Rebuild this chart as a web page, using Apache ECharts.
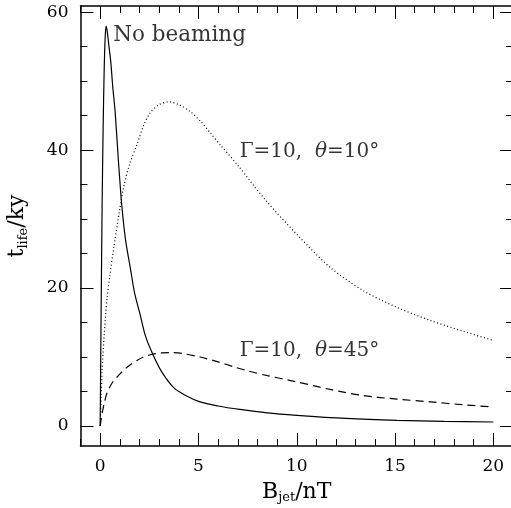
<!DOCTYPE html>
<html>
<head>
<meta charset="utf-8">
<script src="https://cdn.jsdelivr.net/npm/echarts@6/dist/echarts.min.js"></script>
<style>
  html, body { margin: 0; padding: 0; background: #fff; }
  #chart { width: 511px; height: 508px; }
</style>
</head>
<body>
<div id="chart"></div>
<script>
// B_jet (nT) vs t_life (ky)
const noBeamX = [0, 0.05, 0.1, 0.15, 0.2, 0.25, 0.3, 0.35, 0.45, 0.54, 0.64, 0.76, 0.93, 1.1, 1.3, 1.53, 1.75, 2.03, 2.3, 2.66, 3.1, 3.73, 4.3, 5.08, 6, 7.1, 8.5, 10, 12.5, 15.1, 17.5, 20];
const noBeamY = [0, 17, 32, 43, 51, 56, 58, 57.4, 55, 52.8, 49.2, 45.6, 38.4, 32, 26.8, 23, 19.3, 16.2, 13.1, 10.5, 8, 5.6, 4.5, 3.5, 2.9, 2.4, 1.9, 1.55, 1.1, 0.82, 0.68, 0.58];

const theta10X = [0, 0.05, 0.1, 0.2, 0.35, 0.5, 0.7, 1.0, 1.19, 1.5, 1.87, 2.2, 2.54, 3, 3.47, 4, 4.58, 5.1, 5.6, 6.1, 7, 8.4, 10, 11.7, 13.4, 15.1, 16.8, 18.4, 20];
const theta10Y = [0, 4, 8, 13, 18.5, 22, 26, 31.5, 34.6, 38, 40.8, 43.5, 45.4, 46.6, 47, 46.6, 45.6, 44.2, 42.5, 40.8, 37.8, 32.8, 27.8, 23, 19.6, 17.2, 15.3, 13.8, 12.4];

const theta45X = [0, 0.1, 0.2, 0.34, 0.6, 1.02, 1.4, 1.87, 2.2, 2.66, 3.1, 3.56, 4.2, 5.08, 6, 6.78, 7.5, 8.5, 10, 11.7, 13.4, 15.1, 16.8, 18.4, 20];
const theta45Y = [0, 1.8, 3.2, 4.7, 6.2, 7.6, 8.6, 9.5, 10, 10.4, 10.6, 10.65, 10.5, 10, 9.3, 8.6, 8, 7.3, 6.4, 5.3, 4.4, 3.9, 3.5, 3.1, 2.75];

const xMajorTicks = [0, 5, 10, 15, 20];
const xMinorTicks = [-1, 0, 1, 2, 3, 4, 5, 6, 7, 8, 9, 10, 11, 12, 13, 14, 15, 16, 17, 18, 19, 20, 21];
const yMajorTicks = [0, 20, 40, 60];
const yMinorTicks = [0, 5, 10, 15, 20, 25, 30, 35, 40, 45, 50, 55, 60];

// curve labels: [x, y, text]
const curveLabels = [
  [0.66, 56.7, "{n|No beaming}"],
  [7.1, 39.8, "{r|\u0393=10,  }{i|\u03b8}{r|=10\u00b0}"],
  [7.1, 10.9, "{r|\u0393=10,  }{i|\u03b8}{r|=45\u00b0}"]
];

const FONT = "DejaVu Serif";
const pairs = (xs, ys) => xs.map((x, i) => [x, ys[i]]);

const chart = echarts.init(document.getElementById("chart"));

const X_MIN = -1, X_MAX = 21, Y_MIN = -2.9, Y_MAX = 60.9;

function xAxisDef(pos, ticks, len, withLine, withLabels) {
  return {
    type: "value", position: pos, min: X_MIN, max: X_MAX,
    axisLine: { show: withLine, onZero: false, lineStyle: { color: "#000", width: 1.5 } },
    splitLine: { show: false },
    axisTick: { show: true, inside: true, length: len, customValues: ticks, lineStyle: { color: "#000", width: 1 } },
    axisLabel: withLabels
      ? { show: true, customValues: ticks, margin: 12, color: "#000", fontFamily: FONT, fontSize: 17 }
      : { show: false }
  };
}

function yAxisDef(pos, ticks, len, withLine, withLabels) {
  return {
    type: "value", position: pos, min: Y_MIN, max: Y_MAX,
    axisLine: { show: withLine, onZero: false, lineStyle: { color: "#000", width: 1.5 } },
    splitLine: { show: false },
    axisTick: { show: true, inside: true, length: len, customValues: ticks, lineStyle: { color: "#000", width: 1 } },
    axisLabel: withLabels
      ? { show: true, customValues: ticks, margin: 12, color: "#000", fontFamily: FONT, fontSize: 17 }
      : { show: false }
  };
}

const titleRich = {
  b: { fontFamily: FONT, fontSize: 22, color: "#000", lineHeight: 26 },
  s: { fontFamily: FONT, fontSize: 13, color: "#000", padding: [12, 0, 0, 0] }
};

const xAxes = [
  xAxisDef("bottom", xMajorTicks, 13, true, true),
  xAxisDef("bottom", xMinorTicks, 7, false, false),
  xAxisDef("top", xMajorTicks, 13, true, false),
  xAxisDef("top", xMinorTicks, 7, false, false)
];
xAxes[0].name = "{b|B}{s|jet}{b|/nT}";
xAxes[0].nameLocation = "middle";
xAxes[0].nameGap = 33;
xAxes[0].nameTextStyle = { color: "#000", rich: titleRich };

const yAxes = [
  yAxisDef("left", yMajorTicks, 13, true, true),
  yAxisDef("left", yMinorTicks, 7, false, false),
  yAxisDef("right", yMajorTicks, 13, true, false),
  yAxisDef("right", yMinorTicks, 7, false, false)
];
yAxes[0].name = "{b|t}{s|life}{b|/ky}";
yAxes[0].nameLocation = "middle";
yAxes[0].nameRotate = 90;
yAxes[0].nameGap = 50;
yAxes[0].nameTextStyle = { color: "#000", rich: titleRich };

const option = {
  backgroundColor: "#fff",
  animation: false,
  grid: { left: 80.5, right: -2, top: 6, bottom: 62, containLabel: false, outerBoundsMode: "none" },
  xAxis: xAxes,
  yAxis: yAxes,
  series: [
    {
      name: "No beaming", type: "line", data: pairs(noBeamX, noBeamY),
      smooth: 0.3, symbol: "none",
      lineStyle: { color: "#000", width: 1.2, type: "solid" }
    },
    {
      name: "theta10", type: "line", data: pairs(theta10X, theta10Y),
      smooth: 0.3, symbol: "none",
      lineStyle: { color: "#000", width: 1.2, type: [1, 2.5] }
    },
    {
      name: "theta45", type: "line", data: pairs(theta45X, theta45Y),
      smooth: 0.3, symbol: "none",
      lineStyle: { color: "#000", width: 1.2, type: [8, 5] }
    },
    {
      name: "labels", type: "scatter", symbolSize: 0, silent: true,
      data: curveLabels.map(d => ({ value: [d[0], d[1]], label: { formatter: d[2] } })),
      label: {
        show: true, position: "right", distance: 0, color: "#000",
        rich: {
          n: { fontFamily: FONT, fontSize: 21.5, color: "#000" },
          r: { fontFamily: FONT, fontSize: 20, color: "#000" },
          i: { fontFamily: FONT, fontSize: 20, color: "#000", fontStyle: "italic" }
        }
      }
    }
  ]
};

chart.setOption(option);
</script>
</body>
</html>
